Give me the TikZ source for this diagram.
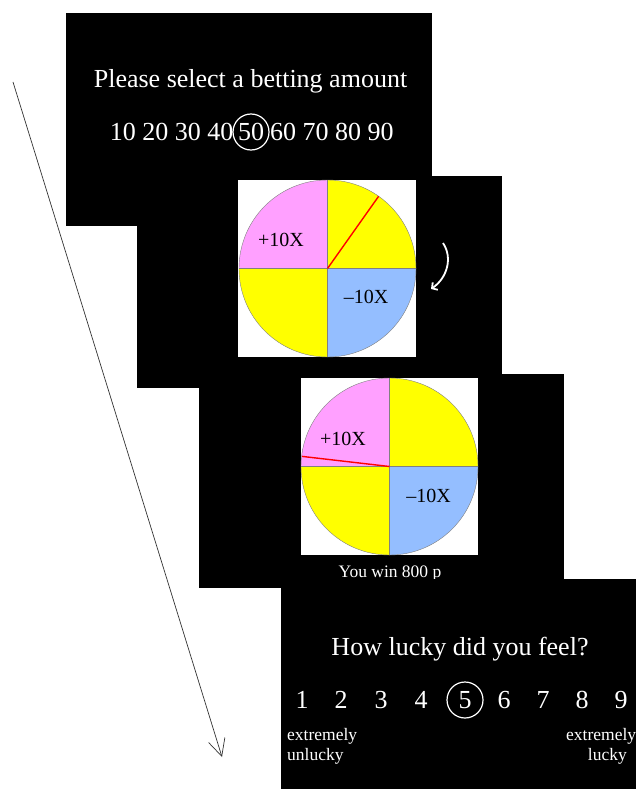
\documentclass[tikz,border=0pt]{standalone}
\usepackage{fontspec}
\setmainfont{Liberation Serif}
\usetikzlibrary{arrows.meta}
\definecolor{wpink}{RGB}{255,160,255}
\definecolor{wyellow}{RGB}{255,255,0}
\definecolor{wblue}{RGB}{148,190,255}
\tikzset{
  panel/.style={fill=black},
  bigtxt/.style={text=white, font=\fontsize{26}{30}\selectfont, inner sep=0pt},
  smalltxt/.style={text=white, font=\fontsize{17.5}{20}\selectfont, inner sep=0pt},
  wlabel/.style={text=black, font=\fontsize{20}{24}\selectfont, inner sep=0pt, anchor=base},
  ring/.style={draw=white, line width=1.2pt, circle, minimum size=36pt, inner sep=0pt},
  wedge/.style={draw=black!50, line width=0.4pt},
  pointer/.style={draw=red, line width=1.4pt}
}
\begin{document}
\begin{tikzpicture}[x=1pt,y=-1pt]
\useasboundingbox (0,0) rectangle (635,789);
\fill[white] (0,0) rectangle (635,789);
% panel 1
\fill[panel] (66,13) rectangle (432,226);
\node[bigtxt, anchor=base] (title) at (250.5,88) {Please select a betting amount};
\node[bigtxt, anchor=base east] (amtA) at (233.5,140) {10 20 30 40};
\node[bigtxt, anchor=base] (amtB) at (251,140) {50};
\node[ring] (amtring) at (251,132) {};
\node[bigtxt, anchor=base west] (amtC) at (270,140) {60 70 80 90};
% panel 2
\fill[panel] (137,176) rectangle (502,388);
\fill[white] (238,180) rectangle (416,357);
\coordinate (c1) at (327.5,268.5);
\fill[wpink] (c1) -- ++(180:88.5) arc (180:270:88.5) -- cycle;
\fill[wyellow] (c1) -- ++(270:88.5) arc (270:360:88.5) -- cycle;
\fill[wblue] (c1) -- ++(0:88.5) arc (0:90:88.5) -- cycle;
\fill[wyellow] (c1) -- ++(90:88.5) arc (90:180:88.5) -- cycle;
\draw[wedge] (c1) circle (88.5);
\draw[wedge] ([xshift=-88.5pt]c1) -- ([xshift=88.5pt]c1);
\draw[wedge] ([yshift=-88.5pt]c1) -- ([yshift=88.5pt]c1);
\draw[pointer] (c1) -- ++(-54.7:88.5);
\node[wlabel] (p1) at (281,246) {+10X};
\node[wlabel] (m1) at (366,303) {–10X};
\coordinate (sA) at (443,243);
\coordinate (sB) at (431,289);
\draw[white, line width=1.8pt, -{Straight Barb[length=4pt,width=9pt]}] (sA) .. controls (453,258) and (447,278) .. (sB);
% panel 3
\fill[panel] (199,374) rectangle (564,588);
\fill[white] (301,378) rectangle (478,555);
\coordinate (c2) at (389.5,466.5);
\fill[wpink] (c2) -- ++(180:88.5) arc (180:270:88.5) -- cycle;
\fill[wyellow] (c2) -- ++(270:88.5) arc (270:360:88.5) -- cycle;
\fill[wblue] (c2) -- ++(0:88.5) arc (0:90:88.5) -- cycle;
\fill[wyellow] (c2) -- ++(90:88.5) arc (90:180:88.5) -- cycle;
\draw[wedge] (c2) circle (88.5);
\draw[wedge] ([xshift=-88.5pt]c2) -- ([xshift=88.5pt]c2);
\draw[wedge] ([yshift=-88.5pt]c2) -- ([yshift=88.5pt]c2);
\draw[pointer] (c2) -- ++(186.6:88);
\node[wlabel] (p2) at (343,445) {+10X};
\node[wlabel] (m2) at (428.5,502) {–10X};
\node[smalltxt, anchor=base] (win) at (390,577) {You win 800 p};
% panel 4
\fill[panel] (281,579) rectangle (640,795);
\node[bigtxt, anchor=base] (q) at (460,655) {How lucky did you feel?};
\foreach \n/\x in {1/302,2/341,3/381,4/421,5/465,6/504,7/543,8/582,9/621}{
  \node[bigtxt, anchor=base] (r\n) at (\x,708) {\n};
}
\node[ring] (rring) at (465,700) {};
\node[smalltxt, anchor=base west] (lo1) at (287,740) {extremely};
\node[smalltxt, anchor=base west] (lo2) at (287,760) {unlucky};
\node[smalltxt, anchor=base west] (hi1) at (566,740) {extremely};
\node[smalltxt, anchor=base east] (hi2) at (627,760) {lucky};
% time arrow
\coordinate (tA) at (13,82);
\coordinate (tB) at (222,757);
\draw[black!80, line width=0.7pt, -{Straight Barb[length=17pt,width=17pt]}] (tA) -- (tB);
\end{tikzpicture}
\end{document}
